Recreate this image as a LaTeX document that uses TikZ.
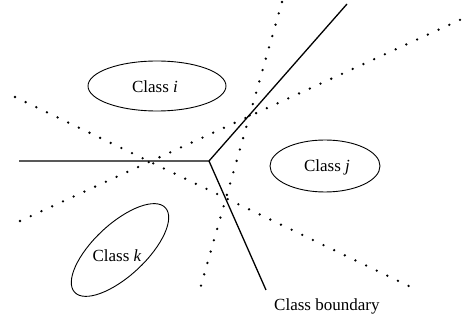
\documentclass[tikz,border=0pt]{standalone}
\usepackage{fontspec}
\setmainfont{Liberation Serif}
\usetikzlibrary{shapes.geometric}
\begin{document}
\begin{tikzpicture}[x=1pt,y=1pt,
  solidline/.style={line width=1.3pt},
  dotline/.style={line width=2.6pt, line cap=round, dash pattern=on 0pt off 11.8pt},
  classbox/.style={draw, ellipse, line width=0.9pt, inner sep=0pt},
  lbl/.style={font=\fontsize{17}{20}\selectfont, inner sep=0pt}]
\useasboundingbox (0,0) rectangle (466,321);
% solid boundaries
\coordinate (J) at (209,160);
\coordinate (L) at (19,160);
\coordinate (T) at (347,317);
\coordinate (B) at (266,31);
\draw[solidline] (L) -- (J) -- (T);
\draw[solidline] (J) -- (B);
% dotted pairwise boundaries
\coordinate (d1a) at (15,224);
\coordinate (d1b) at (415,32);
\coordinate (d2a) at (20,100);
\coordinate (d2b) at (462,302);
\coordinate (d3a) at (282,319);
\coordinate (d3b) at (200,32);
\draw[dotline] (d1a) -- (d1b);
\draw[dotline] (d2a) -- (d2b);
\draw[dotline] (d3a) -- (d3b);
% classes
\node[classbox, minimum width=138pt, minimum height=50pt] (ci) at (157,235) {};
\node[lbl] (ti) at (155,234) {Class \textit{i}};
\node[classbox, minimum width=110pt, minimum height=52pt] (cj) at (325,155) {};
\node[lbl] (tj) at (327,154) {Class \textit{j}};
\node[classbox, minimum width=124pt, minimum height=52pt, rotate=43] (ck) at (120,71) {};
\node[lbl] (tk) at (117,65) {Class \textit{k}};
\node[lbl, anchor=west] (cb) at (274,15) {Class boundary};
\end{tikzpicture}
\end{document}
